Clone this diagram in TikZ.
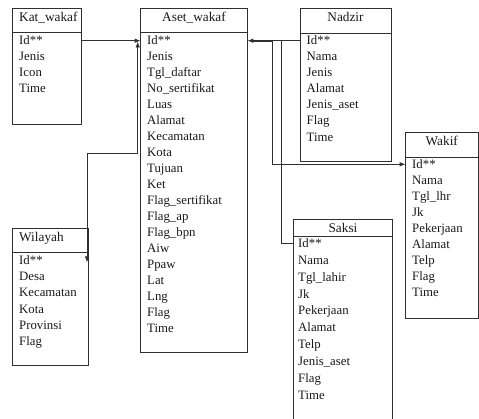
\documentclass[tikz,border=0pt]{standalone}
\usepackage{fontspec}
\setmainfont{Liberation Serif}
\usetikzlibrary{arrows.meta}
\definecolor{linec}{HTML}{303030}
\definecolor{txt}{HTML}{1A1A1A}
\begin{document}
\begin{tikzpicture}[x=1pt,y=-1pt,
  tbl/.style={draw=linec, line width=0.9pt, anchor=north west, inner sep=0pt, outer sep=0pt},
  ttl/.style={font=\fontsize{13.3}{15}\selectfont, text=txt, inner sep=0pt, anchor=base},
  ttll/.style={font=\fontsize{13.3}{15}\selectfont, text=txt, inner sep=0pt, anchor=base west},
  att/.style={font=\fontsize{12.8}{14}\selectfont, text=txt, inner sep=0pt, anchor=base west},
  conn/.style={draw=linec, line width=0.9pt},
  tip/.style={-{Latex[length=6pt,width=4.5pt]}},
  hdr/.style={draw=linec, line width=0.9pt}]
\fill[white] (0,0) rectangle (479,419);
\useasboundingbox (0,0) rectangle (479,419);

% Kat_wakaf
\node[tbl, minimum width=69pt, minimum height=115.7pt] (kat) at (12.7,8.3) {};
\draw[hdr] (12.7,32.3) -- (81.7,32.3);
\node[ttll] (kat-t) at (19,21.3) {Kat\_wakaf};
\foreach \t [count=\i from 0] in {Id**,Jenis,Icon,Time}
  \node[att] (kat-\i) at (19,44.5+16*\i) {\t};

% Aset_wakaf
\node[tbl, minimum width=106.6pt, minimum height=344.2pt] (aset) at (140.7,8.3) {};
\draw[hdr] (140.7,32.3) -- (247.3,32.3);
\node[ttl] (aset-t) at (194,21.3) {Aset\_wakaf};
\foreach \t [count=\i from 0] in {Id**,Jenis,Tgl\_daftar,No\_sertifikat,Luas,Alamat,Kecamatan,Kota,Tujuan,Ket,Flag\_sertifikat,Flag\_ap,Flag\_bpn,Aiw,Ppaw,Lat,Lng,Flag,Time}
  \node[att] (aset-\i) at (147,44.5+16*\i) {\t};

% Nadzir
\node[tbl, minimum width=91pt, minimum height=153.4pt] (nad) at (300,8.3) {};
\draw[hdr] (300,33) -- (391,33);
\node[ttl] (nad-t) at (345.5,21.3) {Nadzir};
\foreach \t [count=\i from 0] in {Id**,Nama,Jenis,Alamat,Jenis\_aset,Flag,Time}
  \node[att] (nad-\i) at (306.5,44.5+16.1*\i) {\t};

% Wakif
\node[tbl, minimum width=72.3pt, minimum height=186pt] (wak) at (405.7,132) {};
\draw[hdr] (405.7,157.7) -- (478,157.7);
\node[ttl] (wak-t) at (441.8,145.3) {Wakif};
\foreach \t [count=\i from 0] in {Id**,Nama,Tgl\_lhr,Jk,Pekerjaan,Alamat,Telp,Flag,Time}
  \node[att] (wak-\i) at (412,168.5+16*\i) {\t};

% Wilayah
\node[tbl, minimum width=75.7pt, minimum height=136.7pt] (wil) at (12.3,228.3) {};
\draw[hdr] (12.3,252.7) -- (88,252.7);
\node[ttll] (wil-t) at (19,241.3) {Wilayah};
\foreach \t [count=\i from 0] in {Id**,Desa,Kecamatan,Kota,Provinsi,Flag}
  \node[att] (wil-\i) at (19,264.5+16.2*\i) {\t};

% Saksi (open at the bottom)
\node[inner sep=0pt, outer sep=0pt, anchor=north west, minimum width=99.4pt, minimum height=199.7pt] (sak) at (293.3,219.3) {};
\draw[conn] (sak.south west) -- (sak.north west) -- (sak.north east) -- (sak.south east);
\draw[hdr] (293.3,236) -- (392.7,236);
\node[ttl] (sak-t) at (343,232.5) {Saksi};
\foreach \t [count=\i from 0] in {Id**,Nama,Tgl\_lahir,Jk,Pekerjaan,Alamat,Telp,Jenis\_aset,Flag,Time}
  \node[att] (sak-\i) at (298,247.8+16.8*\i) {\t};

% connector points
\coordinate (katout) at (81.7,40.7);
\coordinate (asetin) at (140.7,40.7);
\coordinate (asetup) at (137.7,41.5);
\coordinate (wbend) at (87,153.7);
\coordinate (wilin) at (87,262.5);
\coordinate (nadout) at (300,40.7);
\coordinate (asetR) at (247.3,40.7);
\coordinate (j1) at (272.7,40.7);
\coordinate (j2) at (281.3,40.7);
\coordinate (wakin) at (405.7,164.3);
\coordinate (sakin) at (293.3,243.3);

% connectors
\draw[conn,tip] (katout) -- (asetin);
\draw[conn,{Latex[length=6pt,width=4.5pt]}-{Latex[length=6pt,width=4.5pt]}] (asetup) |- (wbend) -- (wilin);
\draw[conn,tip] (nadout) -- (asetR);
\draw[linec, line width=1.7pt] (j1) -- ([xshift=5pt]asetR);
\draw[conn,tip] (j1) |- (wakin);
\draw[conn] (j2) |- (sakin);
\end{tikzpicture}
\end{document}
